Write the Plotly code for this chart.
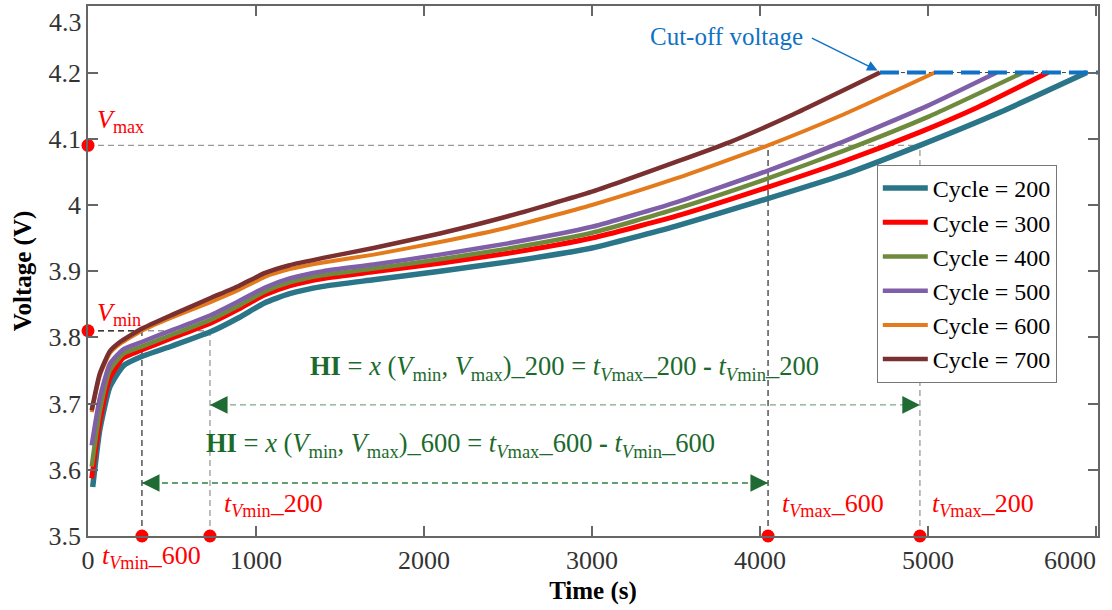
import plotly.graph_objects as go

# ---- charge curves (time in s, voltage in V) ----
t200 = [28, 70, 130, 210, 319, 500, 726, 900, 1050, 1200, 1400, 1700, 2095, 2500, 3000, 3500, 4000, 4500, 4952, 5429, 5945]
v200 = [3.574, 3.660, 3.725, 3.757, 3.771, 3.787, 3.808, 3.830, 3.852, 3.866, 3.877, 3.887, 3.900, 3.914, 3.935, 3.968, 4.006, 4.046, 4.090, 4.140, 4.200]

t300 = [22, 70, 130, 210, 319, 500, 726, 900, 1050, 1200, 1400, 1700, 2095, 2500, 3000, 3500, 4048, 4500, 4952, 5300, 5714]
v300 = [3.587, 3.672, 3.738, 3.769, 3.781, 3.799, 3.821, 3.843, 3.864, 3.878, 3.889, 3.899, 3.912, 3.927, 3.950, 3.983, 4.027, 4.066, 4.110, 4.148, 4.200]

t400 = [22, 70, 130, 210, 319, 500, 726, 900, 1050, 1200, 1400, 1700, 2095, 2500, 3000, 3500, 4048, 4500, 5000, 5565]
v400 = [3.605, 3.688, 3.750, 3.775, 3.786, 3.804, 3.826, 3.848, 3.869, 3.883, 3.894, 3.904, 3.918, 3.934, 3.958, 3.994, 4.040, 4.082, 4.133, 4.200]

t500 = [22, 70, 130, 210, 319, 500, 726, 900, 1050, 1200, 1400, 1700, 2095, 2500, 3000, 3500, 4048, 4500, 5000, 5409]
v500 = [3.637, 3.708, 3.760, 3.782, 3.793, 3.811, 3.833, 3.855, 3.875, 3.889, 3.900, 3.910, 3.925, 3.942, 3.967, 4.004, 4.052, 4.096, 4.150, 4.200]

t600 = [22, 70, 130, 190, 321, 500, 726, 900, 1050, 1200, 1400, 1700, 2095, 2500, 3000, 3500, 4048, 4500, 5042]
v600 = [3.687, 3.742, 3.776, 3.790, 3.810, 3.830, 3.853, 3.872, 3.891, 3.903, 3.913, 3.925, 3.944, 3.966, 4.000, 4.040, 4.090, 4.137, 4.200]

t700 = [22, 70, 130, 190, 319, 500, 726, 900, 1050, 1200, 1400, 1700, 2095, 2500, 3000, 3500, 3821, 4200, 4714]
v700 = [3.690, 3.745, 3.779, 3.793, 3.813, 3.834, 3.859, 3.878, 3.897, 3.909, 3.920, 3.935, 3.957, 3.983, 4.020, 4.065, 4.095, 4.137, 4.200]

cycles = [200, 300, 400, 500, 600, 700]
cycle_colors = ["#2b7589", "#ff0000", "#6e8b3d", "#7f5fa8", "#e37a1c", "#7a3030"]
cycle_widths = [5.5, 5, 4.5, 4.5, 4, 4.5]

# ---- health-indicator reference values ----
v_min = 3.81
v_max = 4.09
v_cutoff = 4.2
t_vmin_600 = 321
t_vmin_200 = 726
t_vmax_600 = 4048
t_vmax_200 = 4952
t_cutoff_start = 4714
t_end = 6012

# ---- axis ticks ----
x_ticks = [0, 1000, 2000, 3000, 4000, 5000, 6000]
x_tick_text = ["0", "1000", "2000", "3000", "4000", "5000", "6000"]
y_ticks = [3.5, 3.6, 3.7, 3.8, 3.9, 4.0, 4.1, 4.2, 4.3]
y_tick_text = ["3.5", "3.6", "3.7", "3.8", "3.9", "4", "4.1", "4.2", "4.3"]

FONT = "Liberation Serif, Times New Roman, serif"
GRAY = "#9a9a9a"
DARK = "#3a3a3a"
GREEN_TXT = "#1b6a2c"
RED = "#ff0000"
BLUE = "#0f72c4"
TICK_FONT = dict(family=FONT, size=26, color="#333333")

fig = go.Figure()


def dashed(x, y, color, width=1.3, dash="6px,4px"):
    fig.add_trace(go.Scatter(x=x, y=y, mode="lines", showlegend=False, hoverinfo="skip",
                             line=dict(color=color, width=width, dash=dash)))


# guide lines behind the curves
dashed([0, t_vmax_200], [v_max, v_max], GRAY)
dashed([t_vmax_200, t_vmax_200], [3.5, v_max], GRAY)
dashed([0, t_vmin_200], [v_min, v_min], GRAY)
dashed([t_vmin_200, t_vmin_200], [3.5, v_min], GRAY)
dashed([0, t_vmin_600], [v_min, v_min], DARK)
dashed([t_vmin_600, t_vmin_600], [3.5, v_min], DARK)
dashed([t_vmax_600, t_vmax_600], [3.5, v_max], DARK)
dashed([t_cutoff_start, t_end], [v_cutoff, v_cutoff], "#444444", width=1, dash="4px,3px")

# HI span lines
hi200_y = 3.698
hi600_y = 3.58
dashed([t_vmin_200, t_vmax_200], [hi200_y, hi200_y], "#7fa886", width=1.4, dash="6px,4px")
dashed([t_vmin_600, t_vmax_600], [hi600_y, hi600_y], "#2f7f3f", width=1.4, dash="6px,4px")

# charge curves
series_t = [t200, t300, t400, t500, t600, t700]
series_v = [v200, v300, v400, v500, v600, v700]
for c, tt, vv, col, w in zip(cycles, series_t, series_v, cycle_colors, cycle_widths):
    fig.add_trace(go.Scatter(x=tt, y=vv, mode="lines", name=f"Cycle = {c}",
                             line=dict(color=col, width=w, shape="spline", smoothing=0.5)))

# cut-off voltage marker line
fig.add_trace(go.Scatter(x=[t_cutoff_start, t_end], y=[v_cutoff, v_cutoff], mode="lines",
                         showlegend=False, hoverinfo="skip",
                         line=dict(color=BLUE, width=4, dash="19px,8px")))

# red reference dots on the axes
fig.add_trace(go.Scatter(
    x=[0, 0, t_vmin_600, t_vmin_200, t_vmax_600, t_vmax_200],
    y=[v_max, v_min, 3.5, 3.5, 3.5, 3.5],
    mode="markers", showlegend=False, hoverinfo="skip", cliponaxis=False,
    marker=dict(color=RED, size=13, line=dict(width=0))))

ann = []

# red labels
red_font = dict(family=FONT, size=26, color=RED)
ann += [
    dict(x=42, y=4.127, text="<i>V</i><sub>max</sub>", xanchor="left", yanchor="middle", font=red_font),
    dict(x=42, y=3.836, text="<i>V</i><sub>min</sub>", xanchor="left", yanchor="middle", font=red_font),
    dict(x=71, y=-0.04, yref="paper", text="<i>t</i><sub><i>V</i>min</sub>_600",
         xanchor="left", yanchor="middle", font=red_font),
    dict(x=798, y=3.547, text="<i>t</i><sub><i>V</i>min</sub>_200", xanchor="left", yanchor="middle", font=red_font),
    dict(x=4119, y=3.547, text="<i>t</i><sub><i>V</i>max</sub>_600", xanchor="left", yanchor="middle", font=red_font),
    dict(x=5012, y=3.547, text="<i>t</i><sub><i>V</i>max</sub>_200", xanchor="left", yanchor="middle", font=red_font),
]

# HI formulas
green_font = dict(family=FONT, size=26.5, color=GREEN_TXT)
ann += [
    dict(x=2839, y=3.753, xanchor="center", yanchor="middle", font=green_font,
         text="<b>HI</b> = <i>x</i> (<i>V</i><sub>min</sub>, <i>V</i><sub>max</sub>)_200 = "
              "<i>t</i><sub><i>V</i>max</sub>_200 <b>-</b> <i>t</i><sub><i>V</i>min</sub>_200"),
    dict(x=2220, y=3.637, xanchor="center", yanchor="middle", font=green_font,
         text="<b>HI</b> = <i>x</i> (<i>V</i><sub>min</sub>, <i>V</i><sub>max</sub>)_600 = "
              "<i>t</i><sub><i>V</i>max</sub>_600 <b>-</b> <i>t</i><sub><i>V</i>min</sub>_600"),
]


# arrowheads on the HI spans
def head(x_tip, x_tail, y, color):
    return dict(x=x_tip, y=y, ax=x_tail, ay=y, axref="x", ayref="y", text="",
                showarrow=True, arrowhead=2, arrowsize=1.6, arrowwidth=2.2, arrowcolor=color)


ann += [
    head(t_vmin_200, t_vmin_200 + 110, hi200_y, "#1f6b33"),
    head(t_vmax_200, t_vmax_200 - 110, hi200_y, "#1f6b33"),
    head(t_vmin_600, t_vmin_600 + 110, hi600_y, "#1f6b33"),
    head(t_vmax_600, t_vmax_600 - 110, hi600_y, "#1f6b33"),
]

# cut-off voltage label and pointer
ann += [
    dict(x=4265, y=4.255, text="Cut-off voltage", xanchor="right", yanchor="middle",
         font=dict(family=FONT, size=25, color=BLUE)),
    dict(x=4700, y=4.203, ax=4300, ay=4.253, axref="x", ayref="y", text="", showarrow=True,
         arrowhead=2, arrowsize=1.4, arrowwidth=1.5, arrowcolor=BLUE),
]

# edge tick labels nudged inside the figure
ann.append(dict(x=t_end, y=0, yref="paper", xanchor="right", yanchor="top", yshift=-8,
                text=x_tick_text[-1], font=TICK_FONT))
ann.append(dict(x=0, xref="paper", y=1, yref="paper", xanchor="right", yanchor="top",
                xshift=-4, yshift=0, text=y_tick_text[-1], font=TICK_FONT))

for a in ann:
    a.setdefault("showarrow", False)
    a.setdefault("xref", "x")
    a.setdefault("yref", "y")
fig.update_layout(annotations=ann)

axis_common = dict(showline=True, linecolor="#666666", linewidth=1.5, mirror="ticks",
                   ticks="inside", ticklen=10, tickwidth=1.5, tickcolor="#666666",
                   showgrid=False, zeroline=False, automargin=False,
                   tickfont=TICK_FONT)

fig.update_xaxes(range=[0, t_end], tickvals=x_ticks, ticktext=x_tick_text[:-1] + [""],
                 title=dict(text="<b>Time (s)</b>", font=dict(family=FONT, size=25, color="black"),
                            standoff=8),
                 **axis_common)
fig.update_yaxes(range=[3.5, 4.3005], tickvals=y_ticks, ticktext=y_tick_text[:-1] + [""],
                 title=dict(text="<b>Voltage (V)</b>", font=dict(family=FONT, size=25, color="black"),
                            standoff=10),
                 **axis_common)

fig.update_layout(
    width=1112, height=610,
    margin=dict(l=88, r=14, t=6, b=74),
    paper_bgcolor="white", plot_bgcolor="white",
    font=dict(family=FONT, color="black"),
    legend=dict(x=0.781, y=0.70, xanchor="left", yanchor="top",
                bgcolor="white", bordercolor="#777777", borderwidth=1,
                font=dict(family=FONT, size=24, color="black"),
                itemwidth=45, tracegroupgap=0),
)

fig.write_html("out.html")
